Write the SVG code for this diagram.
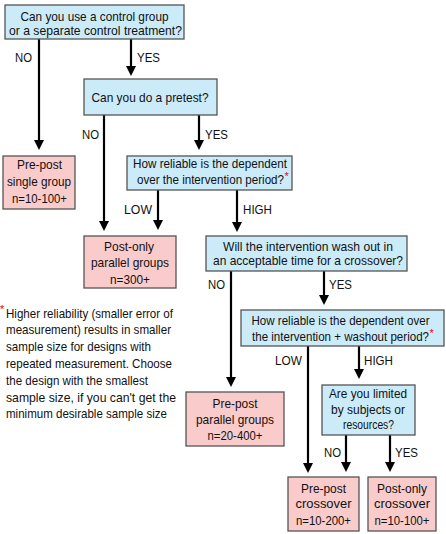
<svg xmlns="http://www.w3.org/2000/svg" width="446" height="534" viewBox="0 0 446 534">
<style>
text{font-family:"Liberation Sans",Arial,sans-serif;font-size:13px;fill:#111}
.c{text-anchor:middle}
.q{fill:#CCEBF9;stroke:#555;stroke-width:1.3}
.r{fill:#F9CBCB;stroke:#555;stroke-width:1.3}
.a{stroke:#000;stroke-width:2.2;fill:none;marker-end:url(#ah)}
.s{fill:#E0001B;font-size:11px}
</style>
<defs>
<marker id="ah" viewBox="0 0 10 10" refX="5" refY="5" markerWidth="10" markerHeight="11" markerUnits="userSpaceOnUse" orient="auto">
<path d="M0,0 L10,5 L0,10 z" fill="#000"/>
</marker>
</defs>
<rect width="446" height="534" fill="#fff"/>
<g id="connectors">
<line class="a" x1="39" y1="39" x2="39" y2="145"/>
<line class="a" x1="131" y1="39" x2="131" y2="71"/>
<line class="a" x1="104" y1="115" x2="104" y2="226"/>
<line class="a" x1="199" y1="115" x2="199" y2="145"/>
<line class="a" x1="158" y1="190" x2="158" y2="225"/>
<line class="a" x1="237" y1="190" x2="237" y2="227"/>
<line class="a" x1="231" y1="271" x2="231" y2="382"/>
<line class="a" x1="324" y1="271" x2="324" y2="300"/>
<line class="a" x1="308" y1="346" x2="308" y2="468"/>
<line class="a" x1="359" y1="346" x2="359" y2="374"/>
<line class="a" x1="346" y1="435" x2="346" y2="467"/>
<line class="a" x1="390" y1="435" x2="390" y2="467"/>
<text x="15" y="61.5" textLength="17" lengthAdjust="spacingAndGlyphs">NO</text>
<text x="137" y="61.5" textLength="23" lengthAdjust="spacingAndGlyphs">YES</text>
<text x="82" y="138.5" textLength="17" lengthAdjust="spacingAndGlyphs">NO</text>
<text x="205" y="138.5" textLength="23" lengthAdjust="spacingAndGlyphs">YES</text>
<text x="124" y="213.5" textLength="28" lengthAdjust="spacingAndGlyphs">LOW</text>
<text x="243" y="213.5" textLength="29" lengthAdjust="spacingAndGlyphs">HIGH</text>
<text x="208" y="288.5" textLength="17" lengthAdjust="spacingAndGlyphs">NO</text>
<text x="329" y="288.5" textLength="23" lengthAdjust="spacingAndGlyphs">YES</text>
<text x="275" y="364.5" textLength="27" lengthAdjust="spacingAndGlyphs">LOW</text>
<text x="364" y="364.5" textLength="29" lengthAdjust="spacingAndGlyphs">HIGH</text>
<text x="324" y="456.5" textLength="17" lengthAdjust="spacingAndGlyphs">NO</text>
<text x="395" y="456.5" textLength="23" lengthAdjust="spacingAndGlyphs">YES</text>
</g>
<g id="q1">
<rect class="q" x="5" y="5" width="179" height="34"/>
<text class="c" x="94.5" y="20.5" textLength="148" lengthAdjust="spacingAndGlyphs">Can you use a control group</text>
<text class="c" x="95.5" y="34.5" textLength="173" lengthAdjust="spacingAndGlyphs">or a separate control treatment?</text>
</g>
<g id="q2">
<rect class="q" x="84" y="79" width="133" height="36"/>
<text class="c" x="150" y="101.5" textLength="117" lengthAdjust="spacingAndGlyphs">Can you do a pretest?</text>
</g>
<g id="r1">
<rect class="r" x="3" y="156" width="72" height="53"/>
<text class="c" x="39.5" y="169" textLength="45" lengthAdjust="spacingAndGlyphs">Pre-post</text>
<text class="c" x="39" y="186" textLength="64" lengthAdjust="spacingAndGlyphs">single group</text>
<text class="c" x="39.5" y="202.5" textLength="55" lengthAdjust="spacingAndGlyphs">n=10-100+</text>
</g>
<g id="q3">
<rect class="q" x="127" y="156" width="165" height="34"/>
<text class="c" x="210" y="168.3" textLength="154" lengthAdjust="spacingAndGlyphs">How reliable is the dependent</text>
<text x="137" y="184"><tspan textLength="147" lengthAdjust="spacingAndGlyphs">over the intervention period?</tspan><tspan class="s" dx="0.5" dy="-4">*</tspan></text>
</g>
<g id="r2">
<rect class="r" x="84" y="236" width="92" height="52"/>
<text class="c" x="129" y="250.7" textLength="50" lengthAdjust="spacingAndGlyphs">Post-only</text>
<text class="c" x="130" y="266.7" textLength="78" lengthAdjust="spacingAndGlyphs">parallel groups</text>
<text class="c" x="130" y="284" textLength="40" lengthAdjust="spacingAndGlyphs">n=300+</text>
</g>
<g id="q4">
<rect class="q" x="206" y="236" width="201" height="35"/>
<text class="c" x="308" y="250.7" textLength="170" lengthAdjust="spacingAndGlyphs">Will the intervention wash out in</text>
<text class="c" x="308" y="265" textLength="190" lengthAdjust="spacingAndGlyphs">an acceptable time for a crossover?</text>
</g>
<g id="q5">
<rect class="q" x="241" y="310" width="203" height="36"/>
<text class="c" x="340.5" y="325" textLength="178" lengthAdjust="spacingAndGlyphs">How reliable is the dependent over</text>
<text x="252" y="340.7"><tspan textLength="177" lengthAdjust="spacingAndGlyphs">the intervention + washout period?</tspan><tspan class="s" dx="0.5" dy="-4">*</tspan></text>
</g>
<g id="r3">
<rect class="r" x="186" y="392" width="98" height="54"/>
<text class="c" x="235" y="408" textLength="45" lengthAdjust="spacingAndGlyphs">Pre-post</text>
<text class="c" x="235" y="424" textLength="78" lengthAdjust="spacingAndGlyphs">parallel groups</text>
<text class="c" x="235" y="440" textLength="55" lengthAdjust="spacingAndGlyphs">n=20-400+</text>
</g>
<g id="q6">
<rect class="q" x="322" y="385" width="93" height="50"/>
<text class="c" x="368" y="398.3" textLength="78" lengthAdjust="spacingAndGlyphs">Are you limited</text>
<text class="c" x="368" y="414" textLength="74" lengthAdjust="spacingAndGlyphs">by subjects or</text>
<text class="c" x="368.5" y="429.3" textLength="51" lengthAdjust="spacingAndGlyphs">resources?</text>
</g>
<g id="r4">
<rect class="r" x="288" y="477" width="71" height="54"/>
<text class="c" x="323.5" y="493" textLength="45" lengthAdjust="spacingAndGlyphs">Pre-post</text>
<text class="c" x="323.5" y="508" textLength="56" lengthAdjust="spacingAndGlyphs">crossover</text>
<text class="c" x="323.5" y="525" textLength="55" lengthAdjust="spacingAndGlyphs">n=10-200+</text>
</g>
<g id="r5">
<rect class="r" x="368" y="477" width="68" height="54"/>
<text class="c" x="402" y="493" textLength="50" lengthAdjust="spacingAndGlyphs">Post-only</text>
<text class="c" x="402" y="508" textLength="56" lengthAdjust="spacingAndGlyphs">crossover</text>
<text class="c" x="402" y="525" textLength="55" lengthAdjust="spacingAndGlyphs">n=10-100+</text>
</g>
<g id="footnote">
<text class="s" x="0" y="313">*</text>
<text x="6" y="317.5" textLength="167" lengthAdjust="spacingAndGlyphs">Higher reliability (smaller error of</text>
<text x="6" y="334.3" textLength="165" lengthAdjust="spacingAndGlyphs">measurement) results in smaller</text>
<text x="6" y="351.1" textLength="145" lengthAdjust="spacingAndGlyphs">sample size for designs with</text>
<text x="6" y="367.9" textLength="166" lengthAdjust="spacingAndGlyphs">repeated measurement. Choose</text>
<text x="6" y="384.7" textLength="142" lengthAdjust="spacingAndGlyphs">the design with the smallest</text>
<text x="6" y="401.5" textLength="170" lengthAdjust="spacingAndGlyphs">sample size, if you can't get the</text>
<text x="6" y="418.3" textLength="161" lengthAdjust="spacingAndGlyphs">minimum desirable sample size</text>
</g>
</svg>
